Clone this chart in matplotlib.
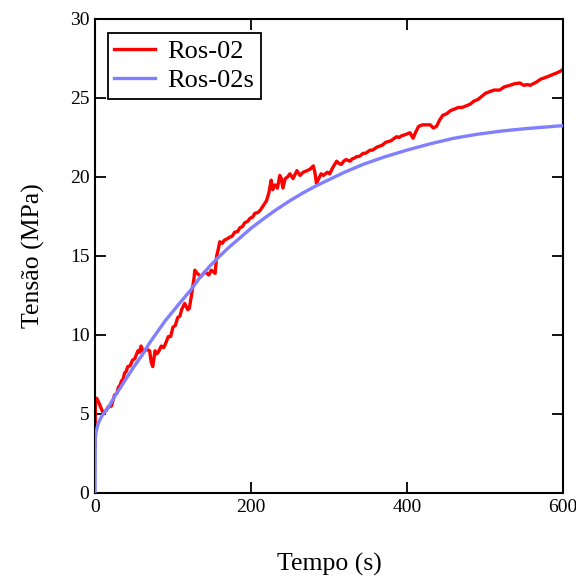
import matplotlib
matplotlib.use("Agg")
import matplotlib.pyplot as plt

# Measured stress history (Ros-02)
red_t = [0, 0.5, 2, 5, 10, 14, 17, 21, 25, 28, 30, 32, 34, 36, 38, 40, 42, 45, 48, 51,
         55, 57, 59, 62, 66, 70, 72, 74, 77, 79, 81, 85, 88, 90, 94, 97, 100, 103, 106,
         109, 111, 115, 119, 121, 124, 127, 128, 131, 136, 141, 146, 149, 152, 154, 156,
         158, 160, 163, 166, 170, 173, 176, 179, 183, 186, 189, 192, 196, 199, 202, 205,
         209, 212, 216, 220, 223, 226, 228, 231, 234, 237, 239, 241, 244, 247, 250, 254,
         259, 263, 267, 272, 276, 280, 282, 284, 287, 290, 293, 298, 301, 305, 310, 313,
         316, 319, 322, 327, 330, 333, 336, 339, 344, 347, 350, 353, 356, 359, 362, 365,
         368, 373, 377, 380, 384, 387, 390, 393, 396, 399, 404, 408, 411, 415, 420, 425,
         430, 434, 438, 442, 446, 451, 456, 461, 466, 471, 476, 481, 486, 491, 496, 501,
         506, 512, 519, 525, 532, 538, 545, 550, 555, 558, 562, 566, 572, 578, 583, 588,
         593, 597, 600]
red_s = [3.0, 5.9, 6.0, 5.7, 5.1, 5.2, 5.45, 5.5, 6.2, 6.3, 6.7, 6.8, 7.1, 7.2, 7.6, 7.7,
         8.0, 8.05, 8.4, 8.5, 9.0, 8.9, 9.3, 8.9, 9.1, 9.0, 8.3, 8.0, 9.0, 8.8, 8.9, 9.3,
         9.2, 9.4, 9.9, 9.9, 10.5, 10.6, 11.1, 11.2, 11.6, 12.0, 11.6, 11.7, 12.6, 13.6,
         14.1, 13.9, 13.7, 14.0, 13.8, 14.1, 14.0, 13.9, 15.0, 15.4, 15.9, 15.8, 16.0,
         16.1, 16.2, 16.25, 16.5, 16.55, 16.8, 16.85, 17.1, 17.2, 17.4, 17.45, 17.7, 17.75,
         17.9, 18.2, 18.5, 19.0, 19.8, 19.2, 19.5, 19.3, 20.1, 19.9, 19.3, 19.9, 20.0, 20.2,
         19.9, 20.4, 20.1, 20.3, 20.4, 20.5, 20.7, 20.3, 19.6, 19.9, 20.2, 20.1, 20.3, 20.2,
         20.6, 21.0, 20.85, 20.8, 21.0, 21.1, 21.0, 21.15, 21.2, 21.3, 21.3, 21.5, 21.5,
         21.6, 21.7, 21.7, 21.8, 21.9, 21.95, 22.0, 22.2, 22.25, 22.3, 22.45, 22.55, 22.5,
         22.6, 22.65, 22.7, 22.8, 22.45, 22.8, 23.2, 23.3, 23.3, 23.3, 23.1, 23.2, 23.6,
         23.9, 24.0, 24.2, 24.3, 24.4, 24.4, 24.5, 24.6, 24.8, 24.9, 25.1, 25.3, 25.4,
         25.5, 25.5, 25.7, 25.8, 25.9, 25.95, 25.8, 25.85, 25.8, 25.9, 26.0, 26.2, 26.3,
         26.4, 26.5, 26.6, 26.7, 26.8]

# Simulated stress history (Ros-02s)
blue_t = [0, 0.3, 1, 4, 9, 17, 25, 33, 42, 50, 60, 70, 80, 90, 100, 110, 122, 134, 147,
          160, 173, 186, 200, 216, 233, 250, 267, 284, 301, 320, 344, 370, 400, 430, 460,
          490, 520, 550, 575, 600]
blue_s = [0, 3.4, 3.8, 4.4, 4.9, 5.4, 6.1, 6.7, 7.4, 8.0, 8.7, 9.5, 10.2, 10.9, 11.5,
          12.1, 12.8, 13.6, 14.35, 15.0, 15.6, 16.15, 16.75, 17.35, 17.95, 18.5, 19.0,
          19.45, 19.85, 20.3, 20.8, 21.25, 21.7, 22.1, 22.45, 22.7, 22.9, 23.05, 23.15,
          23.25]

series_labels = ["Ros-02", "Ros-02s"]
x_ticks = [0, 200, 400, 600]
y_ticks = [0, 5, 10, 15, 20, 25, 30]

plt.rcParams["font.family"] = ["Liberation Serif", "DejaVu Serif"]

fig = plt.figure(figsize=(5.76, 5.77), dpi=100)
ax = fig.add_axes([0.165, 0.1456, 0.812, 0.8215])

ax.plot(red_t, red_s, color="#ff0000", lw=2.4, label=series_labels[0], zorder=2)
ax.plot(blue_t, blue_s, color="#8080ff", lw=2.4, label=series_labels[1], zorder=3)

ax.set_xlim(0, 600)
ax.set_ylim(0, 30)
ax.set_xticks(x_ticks)
ax.set_yticks(y_ticks)
ax.tick_params(direction="in", length=8, width=1.3, top=True, right=True,
               labelsize=14, pad=4)
for sp in ax.spines.values():
    sp.set_linewidth(1.5)

ax.set_xlabel("Tempo (s)", fontsize=18.5, labelpad=27)
ax.set_ylabel("Tensão (MPa)", fontsize=18.5, labelpad=18)

leg = ax.legend(loc="upper left", bbox_to_anchor=(0.027, 0.97), fontsize=19,
                frameon=True, fancybox=False, edgecolor="black", framealpha=1,
                handlelength=1.55, handletextpad=0.45, borderpad=0.25,
                labelspacing=0.2, borderaxespad=0)
leg.get_frame().set_linewidth(1.3)

fig.savefig("out.png", dpi=100)
